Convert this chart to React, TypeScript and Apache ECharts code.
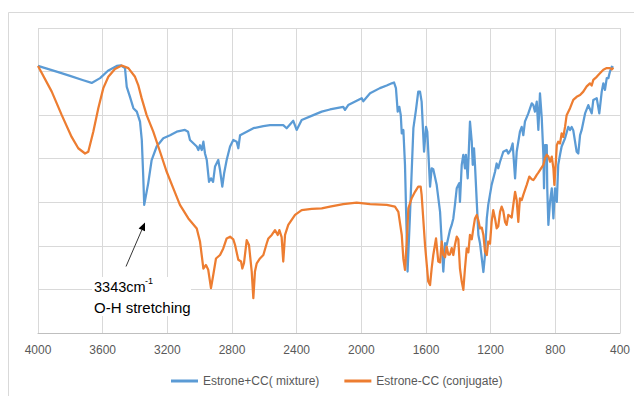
import React, { useEffect, useRef } from "react";
import * as echarts from "echarts";

// x-axis tick labels (wavenumber, cm-1), axis reversed
const xTicks = [4000, 3600, 3200, 2800, 2400, 2000, 1600, 1200, 800, 400];

// Estrone+CC (mixture)
const mixtureWavenumber = [
  4000, 3870, 3802, 3720, 3668, 3616, 3567, 3513, 3487, 3462, 3451, 3431, 3410, 3389, 3369, 3358, 3349, 3343,
  3318, 3297, 3266, 3225, 3183, 3142, 3091, 3072, 3060, 3018, 3008, 2998, 2987, 2977, 2967, 2956,
  2942, 2930, 2917, 2905, 2885, 2874, 2860, 2849, 2833, 2812, 2792, 2771, 2761, 2750, 2709, 2668,
  2606, 2565, 2483, 2462, 2421, 2400, 2369, 2297, 2245, 2194, 2112, 2101, 2081, 1998, 1988, 1946,
  1885, 1843, 1812, 1798, 1786, 1775, 1765, 1756, 1750, 1740, 1730, 1714, 1699, 1678, 1662, 1648,
  1637, 1627, 1612, 1600, 1592, 1575, 1565, 1555, 1534, 1513, 1503, 1493, 1482, 1472, 1452, 1441,
  1431, 1421, 1410, 1394, 1390, 1379, 1369, 1359, 1353, 1342, 1328, 1317, 1311, 1303, 1297, 1286,
  1276, 1266, 1245, 1235, 1224, 1215, 1194, 1173, 1163, 1153, 1142, 1122, 1101, 1091, 1076, 1064,
  1049, 1039, 1029, 1019, 1008, 998, 988, 967, 946, 936, 926, 915, 905, 895, 884, 874,
  870, 864, 853, 850, 843, 833, 822, 812, 802, 791, 782, 771, 761, 740, 720, 709,
  699, 689, 668, 658, 647, 637, 616, 596, 575, 565, 544, 528, 513, 503, 493, 482,
  472, 462, 451, 441,
];
const mixtureT = [
  61.3, 59.8, 59.0, 58.0, 57.4, 58.5, 60.2, 61.3, 61.4, 60.8, 56.5, 54.2, 51.6, 50.8, 48.5, 44.3, 35.9, 29.4,
  34.4, 39.7, 42.8, 44.7, 45.4, 46.2, 46.6, 46.2, 44.3, 42.8, 42.0, 43.1, 42.0, 43.9, 41.2, 39.7,
  34.7, 35.5, 34.7, 38.2, 39.7, 37.4, 33.6, 36.6, 39.7, 42.8, 44.3, 43.9, 42.4, 45.4, 46.2, 47.0,
  47.5, 47.7, 47.7, 47.0, 48.7, 46.6, 48.9, 50.0, 50.8, 51.3, 51.9, 51.2, 52.3, 53.9, 53.2, 55.0,
  56.2, 56.8, 57.3, 57.5, 56.2, 50.8, 51.9, 50.0, 45.8, 46.6, 38.6, 14.1, 27.1, 47.0, 51.2, 55.4,
  55.4, 53.1, 41.6, 47.3, 46.2, 33.6, 37.8, 37.6, 34.0, 27.8, 21.0, 14.1, 20.6, 20.2, 23.6, 24.8,
  26.3, 29.4, 33.2, 34.4, 30.1, 38.6, 40.9, 37.8, 40.9, 35.5, 48.5, 43.9, 38.6, 42.4, 38.6, 30.1,
  22.5, 20.6, 14.0, 17.9, 26.3, 29.4, 34.0, 37.0, 38.9, 37.8, 39.3, 41.6, 42.0, 41.2, 42.0, 43.5,
  35.5, 41.6, 43.9, 46.2, 47.3, 45.4, 48.5, 50.4, 52.7, 52.3, 50.8, 53.1, 46.6, 55.0, 49.3, 40.9,
  33.2, 43.1, 43.1, 33.2, 24.8, 30.1, 33.2, 26.3, 33.2, 30.1, 38.6, 40.9, 42.8, 44.7, 47.3, 46.6,
  47.3, 46.5, 41.6, 41.2, 45.4, 46.6, 50.4, 52.3, 50.4, 53.5, 53.9, 50.4, 55.4, 57.3, 55.8, 58.5,
  58.5, 60.0, 61.1, 60.9,
];

// Estrone-CC (conjugate)
const conjugateWavenumber = [
  4000, 3915, 3853, 3792, 3751, 3709, 3689, 3658, 3627, 3596, 3565, 3524, 3482, 3441, 3400, 3380,
  3359, 3328, 3287, 3245, 3204, 3163, 3122, 3070, 3018, 2998, 2977, 2961, 2947, 2930, 2916, 2899,
  2874, 2854, 2833, 2812, 2792, 2781, 2761, 2744, 2736, 2726, 2709, 2695, 2678, 2668, 2658, 2647,
  2627, 2606, 2585, 2575, 2554, 2534, 2517, 2507, 2493, 2483, 2472, 2452, 2410, 2369, 2307, 2245,
  2194, 2112, 2029, 1946, 1843, 1792, 1771, 1750, 1740, 1730, 1719, 1709, 1688, 1668, 1648, 1633,
  1627, 1606, 1586, 1575, 1565, 1555, 1538, 1524, 1513, 1503, 1493, 1482, 1472, 1462, 1452, 1441,
  1431, 1421, 1410, 1400, 1390, 1379, 1369, 1359, 1348, 1338, 1328, 1317, 1307, 1297, 1286, 1276,
  1266, 1255, 1245, 1235, 1224, 1215, 1204, 1194, 1184, 1173, 1163, 1153, 1142, 1132, 1122, 1111,
  1101, 1091, 1080, 1070, 1060, 1049, 1039, 1029, 1019, 1008, 998, 977, 961, 946, 936, 926,
  915, 905, 895, 874, 864, 853, 843, 833, 822, 812, 806, 798, 791, 782, 771, 761,
  751, 740, 730, 709, 689, 668, 647, 627, 606, 586, 575, 565, 544, 524, 503, 482,
  462, 451, 441,
];
const conjugateT = [
  61.3, 55.4, 50.0, 45.0, 42.4, 41.2, 41.6, 46.2, 51.6, 56.2, 58.8, 60.6, 61.4, 60.8, 58.8, 56.9,
  53.9, 50.0, 46.2, 41.6, 37.0, 33.2, 29.4, 26.3, 24.0, 21.0, 14.8, 15.6, 14.5, 10.3, 13.3, 17.1,
  17.9, 19.4, 21.7, 22.1, 21.5, 20.2, 16.8, 16.4, 14.8, 16.0, 21.3, 20.2, 14.1, 8.0, 14.1, 16.0,
  17.1, 17.9, 20.6, 21.7, 22.5, 23.6, 22.5, 23.6, 22.0, 16.4, 22.5, 24.8, 27.1, 28.2, 28.5, 28.6,
  29.0, 29.6, 29.9, 29.6, 29.4, 29.0, 27.8, 22.5, 17.0, 14.5, 21.0, 28.6, 31.0, 32.4, 33.6, 33.6,
  31.7, 20.2, 11.8, 11.0, 14.8, 17.9, 21.7, 16.4, 16.2, 21.0, 17.9, 17.4, 19.8, 18.0, 18.0, 19.5,
  17.9, 20.2, 22.1, 21.5, 14.8, 11.8, 9.9, 14.8, 19.4, 18.5, 22.5, 21.5, 24.0, 26.3, 27.1, 25.8,
  24.0, 24.2, 22.5, 18.7, 17.9, 21.0, 20.5, 25.5, 28.2, 26.3, 24.0, 24.5, 27.8, 29.0, 28.0, 25.5,
  24.8, 27.1, 26.8, 26.5, 29.4, 32.4, 30.5, 25.5, 30.9, 30.5, 31.7, 34.0, 35.9, 35.3, 35.1, 35.6,
  36.3, 36.8, 37.4, 38.6, 40.1, 40.9, 40.5, 39.3, 40.5, 37.8, 34.0, 38.6, 43.1, 43.9, 43.5, 45.8,
  45.0, 47.3, 50.0, 51.6, 53.5, 54.2, 54.6, 55.4, 56.6, 57.3, 56.8, 58.1, 58.8, 59.6, 60.4, 60.8,
  60.8, 60.5, 60.9,
];

const seriesNames = ["Estrone+CC( mixture)", "Estrone-CC (conjugate)"];
const annotationLines = ["3343cm", "-1", "O-H stretching"];

const FONT = "'Liberation Sans', Arial, sans-serif";

function zip(xs: number[], ys: number[]) {
  return xs.map((x, i) => [x, ys[i]]);
}

export default function App() {
  const ref = useRef<HTMLDivElement>(null);

  useEffect(() => {
    if (!ref.current) return;
    const chart = echarts.init(ref.current, undefined, { renderer: "svg" });
    const xMin = xTicks[xTicks.length - 1];
    const xMax = xTicks[0];
    const tipX = 145, tipY = 222.5, tailX = 126, tailY = 266.5;
    const dx = tipX - tailX, dy = tipY - tailY;
    const len = Math.sqrt(dx * dx + dy * dy);
    const ux = dx / len, uy = dy / len;
    const bx = tipX - 8 * ux, by = tipY - 8 * uy;
    const px = -uy, py = ux;
    chart.setOption({
      animation: false,
      backgroundColor: "#ffffff",
      textStyle: { fontFamily: FONT },
      grid: { left: 38, right: 14, top: 28, bottom: 63, containLabel: false },
      xAxis: {
        type: "value",
        inverse: true,
        min: xMin,
        max: xMax,
        interval: 400,
        axisLine: { show: true, lineStyle: { color: "#bfbfbf", width: 1 } },
        axisTick: { show: false },
        axisLabel: {
          color: "#595959",
          fontSize: 12,
          margin: 11,
          fontFamily: FONT,
          formatter: (v: number) => String(v),
        },
        splitLine: { show: true, lineStyle: { color: "#d9d9d9", width: 1 } },
      },
      yAxis: {
        type: "value",
        min: 0,
        max: 70,
        interval: 10,
        axisLine: { show: false },
        axisTick: { show: false },
        axisLabel: { show: false },
        splitLine: { show: true, lineStyle: { color: "#d9d9d9", width: 1 } },
      },
      legend: {
        left: 166,
        top: 370,
        icon: "rect",
        itemWidth: 27,
        itemHeight: 3,
        itemGap: 25,
        textStyle: { color: "#595959", fontSize: 12, fontFamily: FONT },
        data: seriesNames,
      },
      series: [
        {
          name: seriesNames[0],
          type: "line",
          data: zip(mixtureWavenumber, mixtureT),
          showSymbol: false,
          symbol: "none",
          color: "#5b9bd5",
          lineStyle: { color: "#5b9bd5", width: 2.25, join: "round" },
        },
        {
          name: seriesNames[1],
          type: "line",
          data: zip(conjugateWavenumber, conjugateT),
          showSymbol: false,
          symbol: "none",
          color: "#ed7d31",
          lineStyle: { color: "#ed7d31", width: 2.25, join: "round" },
        },
      ],
      graphic: [
        {
          type: "rect",
          silent: true,
          shape: { x: 8.5, y: 12.5, width: 800, height: 600 },
          style: { fill: "none", stroke: "#d9d9d9", lineWidth: 1 },
        },
        {
          type: "rect",
          silent: true,
          z: 10,
          shape: { x: 92, y: 277, width: 99, height: 39 },
          style: { fill: "#ffffff" },
        },
        {
          type: "line",
          silent: true,
          z: 11,
          shape: { x1: tailX, y1: tailY, x2: bx, y2: by },
          style: { stroke: "#000000", lineWidth: 0.8 },
        },
        {
          type: "polygon",
          silent: true,
          z: 11,
          shape: {
            points: [
              [tipX, tipY],
              [bx + 3.5 * px, by + 3.5 * py],
              [bx - 3.5 * px, by - 3.5 * py],
            ],
          },
          style: { fill: "#000000" },
        },
        {
          type: "text",
          silent: true,
          z: 11,
          x: 94,
          y: 287,
          style: {
            text: annotationLines[0],
            fill: "#000000",
            font: `14.5px ${FONT}`,
            verticalAlign: "middle",
          },
        },
        {
          type: "text",
          silent: true,
          z: 11,
          x: 145,
          y: 281,
          style: {
            text: annotationLines[1],
            fill: "#000000",
            font: `9px ${FONT}`,
            verticalAlign: "middle",
          },
        },
        {
          type: "text",
          silent: true,
          z: 11,
          x: 94,
          y: 307,
          style: {
            text: annotationLines[2],
            fill: "#000000",
            font: `15px ${FONT}`,
            verticalAlign: "middle",
          },
        },
      ],
    });
    return () => chart.dispose();
  }, []);

  return (
    <div
      ref={ref}
      style={{ position: "fixed", left: 0, top: 0, width: 634, height: 396, background: "#ffffff" }}
    />
  );
}
